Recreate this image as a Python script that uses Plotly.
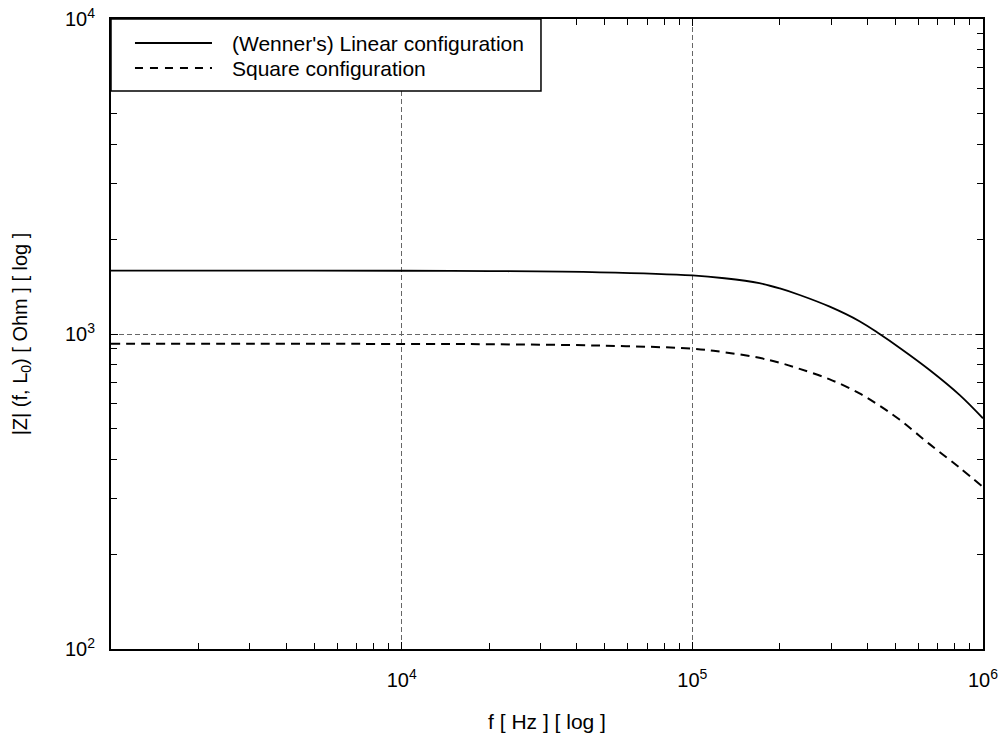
import plotly.graph_objects as go

# Frequency sweep [Hz] and impedance magnitude [Ohm] for both electrode layouts
freq_hz = [1e3, 3e3, 1e4, 2e4, 4.8e4, 1e5, 1.29e5, 1.7e5, 2e5, 2.34e5, 2.97e5,
           3.76e5, 4.41e5, 5.16e5, 6.55e5, 8.32e5, 1e6]
z_linear = [1590, 1590, 1588, 1584, 1570, 1535, 1503, 1450, 1395, 1330, 1221,
            1098, 1000, 905, 769, 640, 540]
z_square = [932, 931, 930, 928, 919, 898, 875, 840, 810, 775, 718,
            648, 592, 535, 447, 376, 327]

series_names = ["(Wenner's) Linear configuration", "Square configuration"]

x_major = [1e4, 1e5, 1e6]
x_major_text = ["10<sup>4</sup>", "10<sup>5</sup>", "10<sup>6</sup>"]
y_major = [1e2, 1e3, 1e4]
y_major_text = ["10<sup>2</sup>", "10<sup>3</sup>", "10<sup>4</sup>"]
x_minor = [m * d for d in (1e3, 1e4, 1e5) for m in range(2, 10)]
y_minor = [m * d for d in (1e2, 1e3) for m in range(2, 10)]

FONT = "Liberation Sans, Arial, sans-serif"
DASH_CURVE = "9px,6px"
GRID_DASH = "5px,3px"

fig = go.Figure()
fig.add_trace(go.Scatter(
    x=freq_hz, y=z_linear, mode="lines", name=series_names[0],
    line=dict(color="black", width=1.8, shape="spline", smoothing=1.0),
    showlegend=False,
))
fig.add_trace(go.Scatter(
    x=freq_hz, y=z_square, mode="lines", name=series_names[1],
    line=dict(color="black", width=2, dash=DASH_CURVE, shape="spline", smoothing=1.0),
    showlegend=False,
))

axis_common = dict(
    showline=True, linecolor="black", linewidth=2, mirror="ticks",
    ticks="inside", ticklen=7, tickwidth=1, tickcolor="black",
    showgrid=True, gridcolor="#666666", gridwidth=1, griddash=GRID_DASH,
    zeroline=False, tickfont=dict(family=FONT, size=20, color="black"),
)

fig.update_xaxes(
    type="log", range=[3, 6], tickmode="array", tickvals=x_major, ticktext=x_major_text,
    minor=dict(tickmode="array", tickvals=x_minor, ticks="inside", ticklen=6,
               tickwidth=1, tickcolor="black", showgrid=False),
    ticklabelstandoff=12,
    title=dict(text="f [ Hz ] [ log ]", font=dict(family=FONT, size=21, color="black"), standoff=24),
    **axis_common,
)
fig.update_yaxes(
    type="log", range=[2, 4], tickmode="array", tickvals=y_major, ticktext=y_major_text,
    minor=dict(tickmode="array", tickvals=y_minor, ticks="inside", ticklen=6,
               tickwidth=1, tickcolor="black", showgrid=False),
    ticklabelstandoff=10,
    title=dict(text="|Z| (f, L<sub>0</sub>) [ Ohm ] [ log ]",
               font=dict(family=FONT, size=20, color="black"), standoff=32),
    **axis_common,
)

# Legend box drawn in paper coordinates at the top-left corner of the plot
box_x1, box_y0 = 0.4931, 0.8857
row_y = [0.9619, 0.9222]
sample_x = (0.0275, 0.1158)
text_x = 0.1365
shapes = [
    dict(type="rect", xref="paper", yref="paper", x0=0, x1=box_x1, y0=box_y0, y1=1,
         line=dict(color="black", width=1.5), fillcolor="white", layer="above"),
    dict(type="line", xref="paper", yref="paper", x0=sample_x[0], x1=sample_x[1],
         y0=row_y[0], y1=row_y[0], line=dict(color="black", width=1.8)),
    dict(type="line", xref="paper", yref="paper", x0=sample_x[0], x1=sample_x[1],
         y0=row_y[1], y1=row_y[1], line=dict(color="black", width=1.8, dash="8px,7px")),
]
annotations = [
    dict(xref="paper", yref="paper", x=text_x, y=yy, text=name, showarrow=False,
         xanchor="left", yanchor="middle", font=dict(family=FONT, size=21, color="black"))
    for name, yy in zip(series_names, row_y)
]

fig.update_layout(
    width=1004, height=744,
    margin=dict(l=111, r=21, t=19, b=95, autoexpand=False),
    paper_bgcolor="white", plot_bgcolor="white",
    shapes=shapes, annotations=annotations,
    showlegend=False,
)

fig.write_html("out.html")
